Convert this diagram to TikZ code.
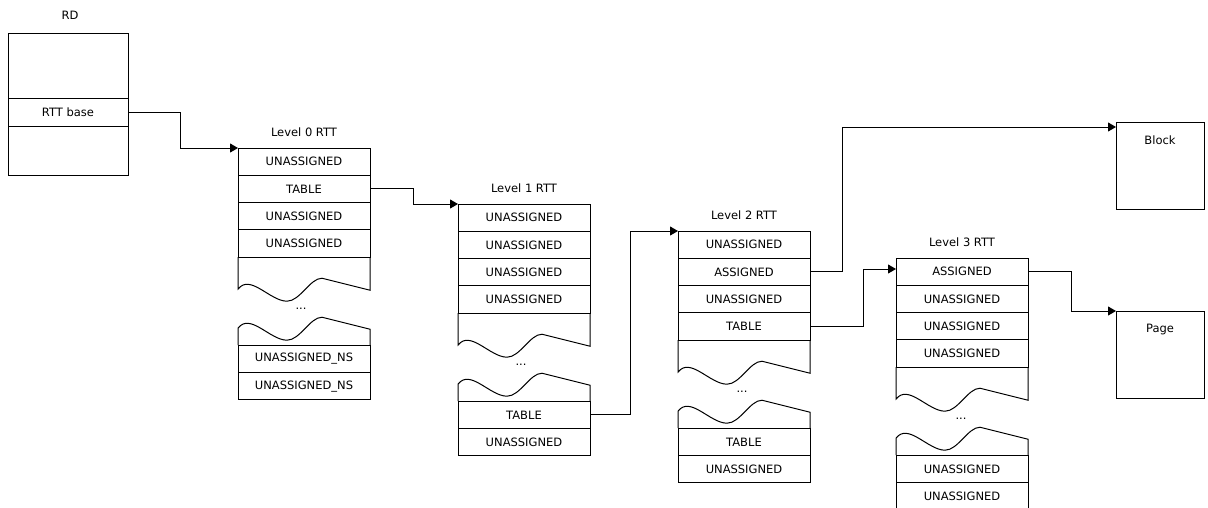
\documentclass[tikz,border=0pt]{standalone}
\usepackage{fontspec}
\setmainfont{DejaVu Sans}
\usetikzlibrary{positioning,arrows.meta}

\begin{document}
\begin{tikzpicture}[x=1pt,y=-1pt,line width=1pt,font=\fontsize{11.5}{13}\selectfont,
   cell/.style={draw,minimum width=132pt,minimum height=27.3pt,inner sep=0pt,outer sep=0pt},
   rdcell/.style={draw,minimum width=120pt,inner sep=0pt,outer sep=0pt},
   endbox/.style={draw,minimum width=88pt,minimum height=87pt,inner sep=0pt,outer sep=0pt,anchor=north west},
   lbl/.style={inner sep=0pt},
   link/.style={-{Triangle[length=8pt,width=9pt]}},
   tornlow/.pic={\draw (0,0) -- (0,32) .. controls (12,16) and (32,44) .. (49,44) .. controls (62,44) and (72,21) .. (84,21) -- (132,33) -- (132,0);},
   tornhigh/.pic={\draw (0,0) -- (0,-17) .. controls (12,-33) and (32,-5) .. (49,-5) .. controls (62,-5) and (72,-28) .. (84,-28) -- (132,-16) -- (132,0);}]
   \useasboundingbox (0,0) rectangle (1208,507);

   \node[lbl] (rdt) at (70,15) {RD};
   \node[rdcell,minimum height=65pt,anchor=north west] (rdtop) at (8,33) {};
   \node[rdcell,minimum height=28pt,below=0pt of rdtop] (rdbase) {RTT base};
   \node[rdcell,minimum height=49pt,below=0pt of rdbase] (rdbot) {};

   \node[cell,anchor=north west] (l0a) at (238,148) {UNASSIGNED};
   \node[cell,below=0pt of l0a] (l0b) {TABLE};
   \node[cell,below=0pt of l0b] (l0c) {UNASSIGNED};
   \node[cell,below=0pt of l0c] (l0d) {UNASSIGNED};
   \pic at (l0d.south west) {tornlow};
   \node[lbl] (l0dots) at ([xshift=63pt,yshift=-52pt]l0d.south west) {...};
   \node[cell,below=88pt of l0d] (l0y) {UNASSIGNED\_NS};
   \node[cell,below=0pt of l0y] (l0z) {UNASSIGNED\_NS};
   \pic at (l0y.north west) {tornhigh};
   \node[lbl,above=10.5pt of l0a] (l0t) {Level 0 RTT};

   \node[cell,anchor=north west] (l1a) at (458,204) {UNASSIGNED};
   \node[cell,below=0pt of l1a] (l1b) {UNASSIGNED};
   \node[cell,below=0pt of l1b] (l1c) {UNASSIGNED};
   \node[cell,below=0pt of l1c] (l1d) {UNASSIGNED};
   \pic at (l1d.south west) {tornlow};
   \node[lbl] (l1dots) at ([xshift=63pt,yshift=-52pt]l1d.south west) {...};
   \node[cell,below=88pt of l1d] (l1y) {TABLE};
   \node[cell,below=0pt of l1y] (l1z) {UNASSIGNED};
   \pic at (l1y.north west) {tornhigh};
   \node[lbl,above=10.5pt of l1a] (l1t) {Level 1 RTT};

   \node[cell,anchor=north west] (l2a) at (678,231) {UNASSIGNED};
   \node[cell,below=0pt of l2a] (l2b) {ASSIGNED};
   \node[cell,below=0pt of l2b] (l2c) {UNASSIGNED};
   \node[cell,below=0pt of l2c] (l2d) {TABLE};
   \pic at (l2d.south west) {tornlow};
   \node[lbl] (l2dots) at ([xshift=64pt,yshift=-52pt]l2d.south west) {...};
   \node[cell,below=88pt of l2d] (l2y) {TABLE};
   \node[cell,below=0pt of l2y] (l2z) {UNASSIGNED};
   \pic at (l2y.north west) {tornhigh};
   \node[lbl,above=10.5pt of l2a] (l2t) {Level 2 RTT};

   \node[cell,anchor=north west] (l3a) at (896,258) {ASSIGNED};
   \node[cell,below=0pt of l3a] (l3b) {UNASSIGNED};
   \node[cell,below=0pt of l3b] (l3c) {UNASSIGNED};
   \node[cell,below=0pt of l3c] (l3d) {UNASSIGNED};
   \pic at (l3d.south west) {tornlow};
   \node[lbl] (l3dots) at ([xshift=65pt,yshift=-52pt]l3d.south west) {...};
   \node[cell,below=88pt of l3d] (l3y) {UNASSIGNED};
   \node[cell,below=0pt of l3y] (l3z) {UNASSIGNED};
   \pic at (l3y.north west) {tornhigh};
   \node[lbl,above=10.5pt of l3a] (l3t) {Level 3 RTT};

   \node[endbox] (blk) at (1116,122) {};
   \node[lbl,below=13pt of blk.north] (blkt) {Block};
   \node[endbox] (pg) at (1116,311) {};
   \node[lbl,below=13pt of pg.north] (pgt) {Page};

   \draw[link] (rdbase.east) -- ++(52,0) |- (l0a.north west);
   \draw[link] (l0b.east) -- ++(43,0) |- (l1a.north west);
   \draw[link] (l1y.east) -- ++(40,0) |- (l2a.north west);
   \draw[link] (l2b.east) -- ++(32,0) |- ([yshift=-5pt]blk.north west);
   \draw[link] (l2d.east) -- ++(53,0) |- ([yshift=-11pt]l3a.north west);
   \draw[link] (l3a.east) -- ++(43,0) |- (pg.north west);
\end{tikzpicture}
\end{document}
